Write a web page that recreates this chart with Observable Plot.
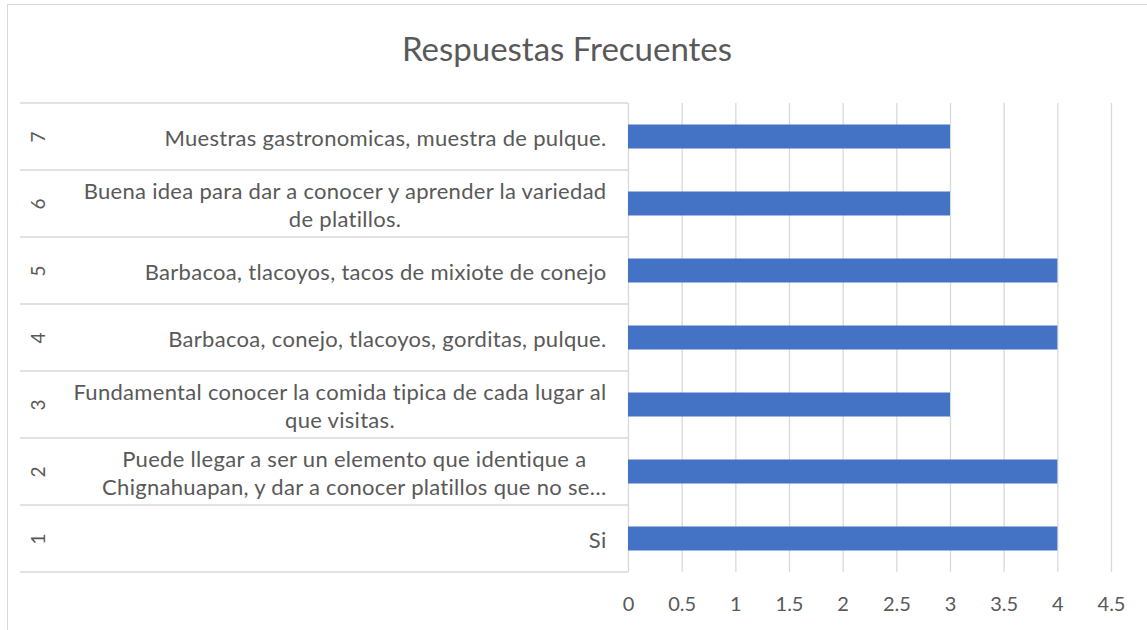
<!DOCTYPE html>
<html>
<head>
<meta charset="utf-8">
<script src="https://cdn.jsdelivr.net/npm/d3@7"></script>
<script src="https://cdn.jsdelivr.net/npm/@observablehq/plot@0.6"></script>
<style>
  html, body { margin: 0; padding: 0; background: #fff; width: 1147px; height: 630px; overflow: hidden; position: relative; }
  #frame { position: absolute; left: 7px; top: 4px; width: 1300px; height: 800px; border: 1px solid #d9d9d9; box-sizing: border-box; }
  #title { position: absolute; left: 0; top: 28px; width: 1134px; text-align: center; font-family: Lato, sans-serif; font-size: 33px; color: #595959; line-height: 40px; }
  #chart { position: absolute; left: 0; top: 90px; }
</style>
</head>
<body>
<div id="frame"></div>
<div id="title">Respuestas Frecuentes</div>
<div id="chart"></div>
<script>
const categories = ["1", "2", "3", "4", "5", "6", "7"];
const answers = [
  "Si",
  "Puede llegar a ser un elemento que identique a\nChignahuapan, y dar a conocer platillos que no se…",
  "Fundamental conocer la comida tipica de cada lugar al\nque visitas.",
  "Barbacoa, conejo, tlacoyos, gorditas, pulque.",
  "Barbacoa, tlacoyos, tacos de mixiote de conejo",
  "Buena idea para dar a conocer y aprender la variedad\nde platillos.",
  "Muestras gastronomicas, muestra de pulque."
];
const counts = [4, 4, 3, 4, 4, 3, 3];
const xTicks = [0, 0.5, 1, 1.5, 2, 2.5, 3, 3.5, 4, 4.5];

const data = categories.map((c, i) => ({cat: c, answer: answers[i], count: counts[i]}));
const yDomain = categories.slice().reverse();

const plot = Plot.plot({
  width: 1147,
  height: 540,
  marginLeft: 628,
  marginRight: 36,
  marginTop: 13,
  marginBottom: 58,
  style: {fontFamily: "Lato, sans-serif", fontSize: "20px", color: "#595959", background: "transparent", overflow: "visible"},
  x: {domain: [0, 4.5], ticks: xTicks, tickSize: 0, tickPadding: 24, label: null, tickFormat: d => String(d)},
  y: {domain: yDomain, padding: 0, axis: null, label: null},
  marks: [
    Plot.gridX(xTicks, {stroke: "#d9d9d9", strokeOpacity: 1, strokeWidth: 1.3}),
    Plot.barX(data, {x: "count", y: "cat", fill: "#4472C4", insetTop: 21.5, insetBottom: 21.5}),
    Plot.text(data, {x: 0, y: "cat", text: "answer", textAnchor: "end", dx: -22, lineHeight: 1.3, fontSize: 22, fill: "#595959"}),
    Plot.text(data, {x: 0, y: "cat", text: "cat", rotate: -90, dx: -590, fontSize: 19, fill: "#595959"})
  ]
});

document.getElementById("chart").appendChild(plot);
const svgEl = plot.tagName.toLowerCase() === "svg" ? plot : plot.querySelector("svg");
const svg = d3.select(svgEl);

// wider letter spacing, and centre wrapped lines within their block (block stays right-aligned)
const firstLines = new Set(answers.map(a => a.split("\n")[0]));
svg.selectAll("text").each(function () {
  const spans = Array.from(this.querySelectorAll("tspan"));
  const first = spans.length ? spans[0].textContent : this.textContent;
  if (!firstLines.has(first)) return;
  this.style.letterSpacing = "0.3px";
  if (spans.length > 1) {
    const widths = spans.map(s => s.getComputedTextLength());
    const maxW = Math.max(...widths);
    spans.forEach((s, i) => s.setAttribute("dx", -(maxW - widths[i]) / 2));
  }
});

// category separators drawn from the plot's own y scale
const ys = plot.scale("y");
const bw = ys.bandwidth;
const edges = categories.map(c => ys.apply(c)).concat([ys.apply(categories[0]) + bw]);
const x0 = plot.scale("x").apply(0);
svg.append("g")
  .selectAll("line")
  .data(edges)
  .join("line")
  .attr("x1", 20)
  .attr("x2", x0)
  .attr("y1", d => d)
  .attr("y2", d => d)
  .attr("stroke", "#d9d9d9")
  .attr("stroke-width", 1.3);
</script>
</body>
</html>
